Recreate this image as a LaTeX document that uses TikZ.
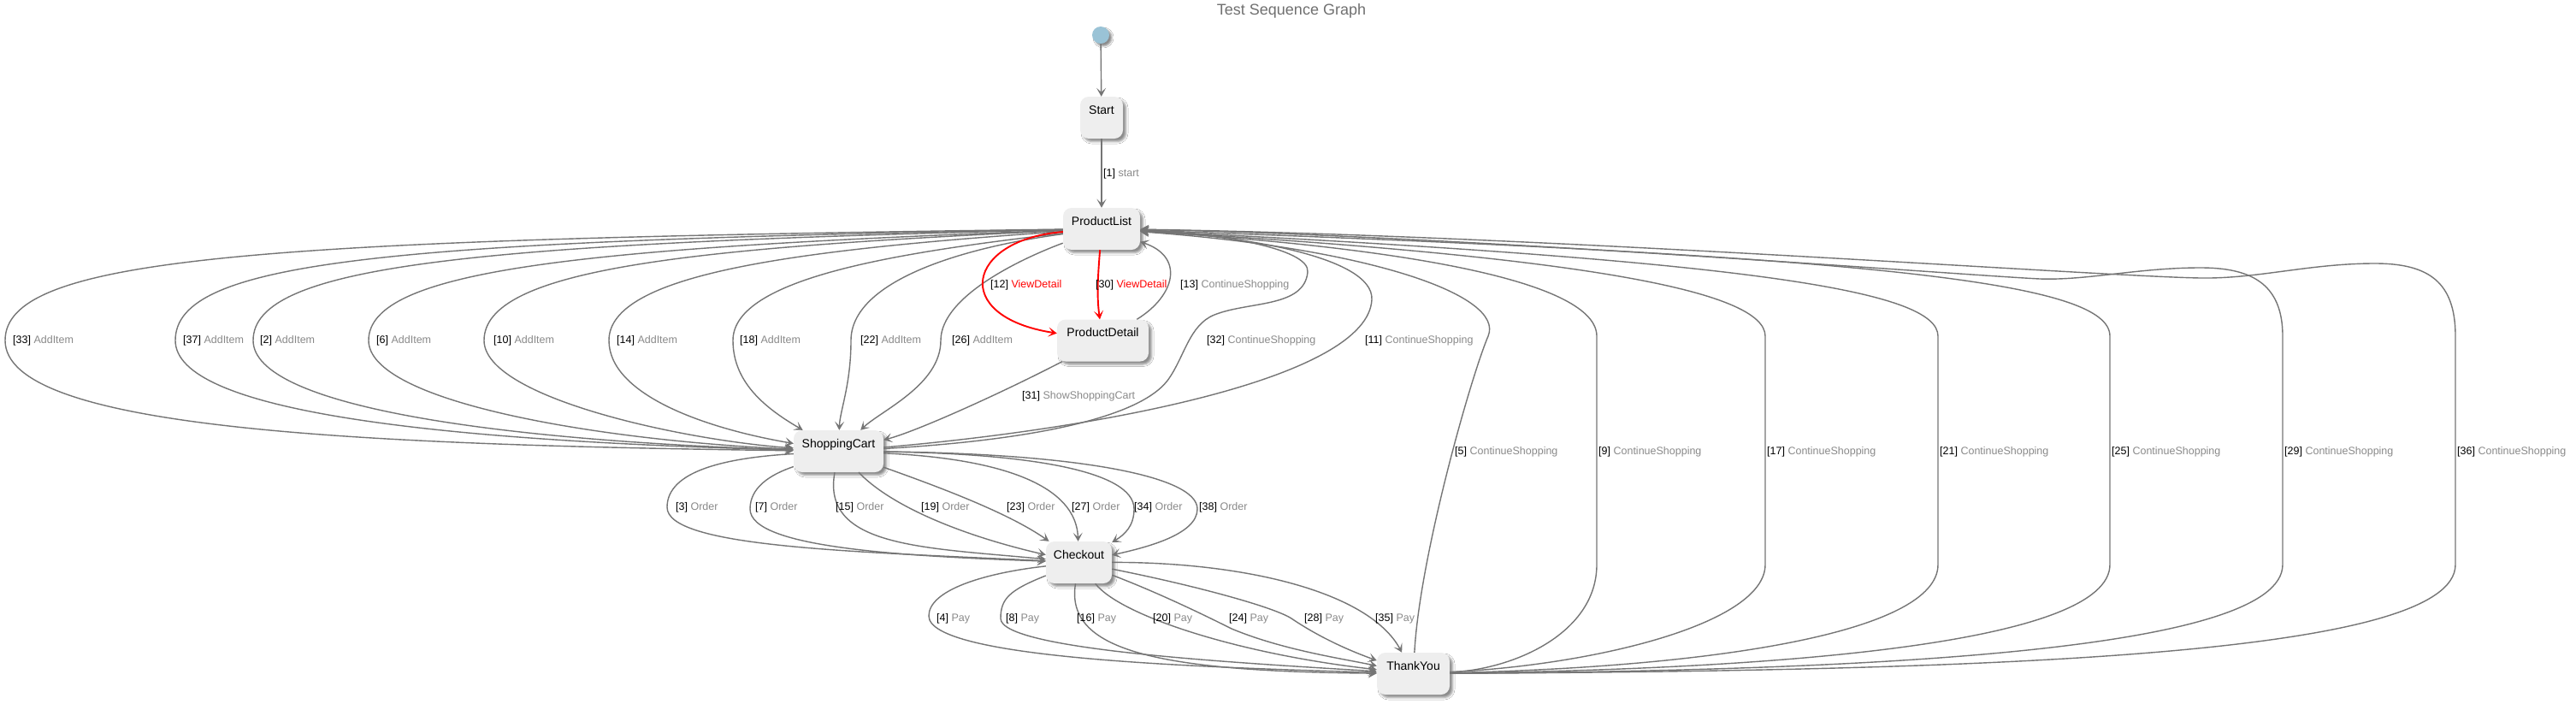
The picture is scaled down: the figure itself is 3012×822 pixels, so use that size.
\documentclass[tikz,border=0pt]{standalone}
\usepackage{fontspec}
\setmainfont{Liberation Sans}
\usetikzlibrary{arrows.meta,shadows.blur}
\definecolor{edgec}{HTML}{757575}
\definecolor{labc}{HTML}{8A8A8A}
\definecolor{nodefill}{HTML}{EEEEEE}
\definecolor{initc}{HTML}{9AC3D6}
\definecolor{titlec}{HTML}{707070}
\definecolor{redc}{HTML}{FF0000}
\newcommand\lblfont{\fontsize{12.5}{14}\selectfont}
\newcommand\stfont{\fontsize{14}{16}\selectfont}
\newcommand\ttlfont{\fontsize{18}{20}\selectfont}
\tikzset{
  st/.style={fill=nodefill, rounded corners=10pt, minimum height=49pt,
    text height=20pt, text depth=29pt, inner ysep=0pt, inner xsep=0pt,
    font=\stfont,
    blur shadow={shadow xshift=3.5pt, shadow yshift=-3.5pt, shadow blur radius=2.5pt, shadow opacity=45}},
  e/.style={draw=edgec, line width=1.4pt, -{Stealth[length=10pt,width=11pt,inset=5pt]}},
  re/.style={draw=redc, line width=1.9pt, -{Stealth[length=10pt,width=11pt,inset=5pt]}},
  lab/.style={anchor=west, inner sep=0pt, font=\lblfont},
}
\newcommand\gl[2]{#1 {\color{labc}#2}}
\newcommand\rl[2]{#1 {\color{redc}#2}}
\begin{document}
\begin{tikzpicture}[x=1pt,y=-1pt]
\useasboundingbox (0,0) rectangle (3012,822);
\fill[white] (0,0) rectangle (3012,822);

\node[font=\ttlfont, text=titlec, inner sep=0pt] (title) at (1510,13) {Test Sequence Graph};

\node[circle, fill=initc, minimum size=20pt, inner sep=0pt,
  blur shadow={shadow xshift=3pt, shadow yshift=-3pt, shadow blur radius=2pt, shadow opacity=45}] (init) at (1287,41) {};
\node[st, minimum width=50pt] (Start) at (1288,137.5) {Start};
\node[st, minimum width=90pt] (PL) at (1288,267.5) {ProductList};
\node[st, minimum width=107pt] (PD) at (1289.5,398) {ProductDetail};
\node[st, minimum width=105pt] (SC) at (980.5,527.5) {ShoppingCart};
\node[st, minimum width=77pt] (CO) at (1261.5,657.5) {Checkout};
\node[st, minimum width=85pt] (TY) at (1652.5,787.5) {ThankYou};

% initial and start
\draw[e] (init) -- (Start);
\draw[e] (Start) -- (PL);

% AddItem: ProductList -> ShoppingCart
\draw[e] (PL) .. controls (300,280) and (6,300) .. (6,398) .. controls (6,500) and (400,520) .. (SC);
\draw[e] (PL) .. controls (450,282) and (205,305) .. (205,398) .. controls (205,480) and (500,515) .. (SC);
\draw[e] (PL) .. controls (550,285) and (296,310) .. (296,398) .. controls (296,475) and (580,515) .. (SC);
\draw[e] (PL) .. controls (680,290) and (431,315) .. (431,398) .. controls (431,470) and (700,515) .. (SC);
\draw[e] (PL) .. controls (800,290) and (566,315) .. (566,398) .. controls (566,465) and (800,515) .. (SC);
\draw[e] (PL) .. controls (930,292) and (712,320) .. (712,398) .. controls (712,460) and (820,500) .. (SC);
\draw[e] (PL) .. controls (1050,295) and (857,325) .. (857,398) .. controls (857,450) and (900,480) .. (SC);
\draw[e] (PL) .. controls (1120,290) and (995,330) .. (995,398) .. controls (995,450) and (982,480) .. (SC);
\draw[e] (PL) .. controls (1200,300) and (1100,345) .. (1100,398) .. controls (1100,450) and (1030,480) .. (SC);

% ViewDetail (red)
\draw[re] (PL) .. controls (1130,280) and (1110,370) .. (PD);
\draw[re] (PL) .. controls (1284,320) and (1282,345) .. (PD);
% ProductDetail -> ProductList
\draw[e] (PD) .. controls (1375,345) and (1385,300) .. (PL);
% ProductDetail -> ShoppingCart
\draw[e] (PD) .. controls (1170,460) and (1070,505) .. (SC);
% ShoppingCart -> ProductList
\draw[e] (SC) .. controls (1200,515) and (1330,490) .. (1365,445) .. controls (1385,418) and (1390,380) .. (1420,368) .. controls (1460,352) and (1525,360) .. (1529,318) .. controls (1532,290) and (1420,272) .. (PL);
\draw[e] (SC) .. controls (1300,500) and (1600,440) .. (1604,350) .. controls (1606,300) and (1450,275) .. (PL);

% ThankYou -> ProductList
\draw[e] (TY) .. controls (1660,650) and (1720,440) .. (1740,393) .. controls (1760,345) and (1600,290) .. (PL);
\draw[e] (TY) .. controls (1770,783) and (1867,740) .. (1867,660) -- (1867,393) .. controls (1867,330) and (1650,290) .. (PL);
\draw[e] (TY) .. controls (1860,778) and (2064,730) .. (2064,660) -- (2064,393) .. controls (2064,340) and (1850,300) .. (PL);
\draw[e] (TY) .. controls (2000,780) and (2266,740) .. (2266,660) -- (2266,393) .. controls (2266,340) and (2050,305) .. (PL);
\draw[e] (TY) .. controls (2100,782) and (2467,750) .. (2467,660) -- (2467,393) .. controls (2467,330) and (2200,300) .. (PL);
\draw[e] (TY) .. controls (2200,784) and (2669,760) .. (2669,660) -- (2669,393) .. controls (2669,330) and (2630,313) .. (2573,313) .. controls (2500,313) and (2440,328) .. (2385,326) .. controls (2300,322) and (1700,275) .. (PL);
\draw[e] (TY) .. controls (2350,784) and (2871,765) .. (2871,660) -- (2871,393) .. controls (2871,330) and (2840,308) .. (2777,308) .. controls (2700,308) and (2640,326) .. (2573,325) .. controls (2450,323) and (1800,275) .. (PL);

% Order: ShoppingCart -> Checkout
\draw[e] (SC) .. controls (850,535) and (780,550) .. (780,593) .. controls (780,640) and (1000,645) .. (CO);
\draw[e] (SC) .. controls (900,555) and (877,570) .. (877,595) .. controls (877,640) and (1050,650) .. (CO);
\draw[e] (SC) .. controls (960,640) and (1080,640) .. (CO);
\draw[e] (SC) .. controls (1040,590) and (1120,625) .. (CO);
\draw[e] (SC) .. controls (1100,570) and (1180,600) .. (CO);
\draw[e] (SC) .. controls (1150,535) and (1258,560) .. (CO);
\draw[e] (SC) .. controls (1200,530) and (1326,550) .. (1326,595) .. controls (1326,615) and (1315,625) .. (CO);
\draw[e] (SC) .. controls (1250,530) and (1400,555) .. (1400,595) .. controls (1400,625) and (1340,640) .. (CO);

% Pay: Checkout -> ThankYou
\draw[e] (CO) .. controls (1150,670) and (1086,690) .. (1086,720) .. controls (1086,770) and (1400,780) .. (TY);
\draw[e] (CO) .. controls (1180,690) and (1170,700) .. (1170,723) .. controls (1170,760) and (1450,775) .. (TY);
\draw[e] (CO) .. controls (1245,760) and (1350,785) .. (TY);
\draw[e] (CO) .. controls (1310,720) and (1450,765) .. (TY);
\draw[e] (CO) .. controls (1360,695) and (1420,725) .. (1440,735) .. controls (1500,760) and (1570,770) .. (TY);
\draw[e] (CO) .. controls (1400,685) and (1490,710) .. (1510,723) .. controls (1550,750) and (1590,765) .. (TY);
\draw[e] (CO) .. controls (1450,657) and (1600,690) .. (TY);

% labels
\node[lab] (l1) at (1290,203) {\gl{[1]}{start}};
\node[lab] (l33) at (15,398) {\gl{[33]}{AddItem}};
\node[lab] (l37) at (214,398) {\gl{[37]}{AddItem}};
\node[lab] (l2) at (304,398) {\gl{[2]}{AddItem}};
\node[lab] (l6) at (440,398) {\gl{[6]}{AddItem}};
\node[lab] (l10) at (577,398) {\gl{[10]}{AddItem}};
\node[lab] (l14) at (721,398) {\gl{[14]}{AddItem}};
\node[lab] (l18) at (865,398) {\gl{[18]}{AddItem}};
\node[lab] (l22) at (1006,398) {\gl{[22]}{AddItem}};
\node[lab] (l26) at (1113,398) {\gl{[26]}{AddItem}};
\node[lab] (l12) at (1158,333) {\rl{[12]}{ViewDetail}};
\node[lab] (l30) at (1281,333) {\rl{[30]}{ViewDetail}};
\node[lab] (l13) at (1380,333) {\gl{[13]}{ContinueShopping}};
\node[lab] (l32) at (1411,398) {\gl{[32]}{ContinueShopping}};
\node[lab] (l11) at (1596,398) {\gl{[11]}{ContinueShopping}};
\node[lab] (l31) at (1195,463) {\gl{[31]}{ShowShoppingCart}};
\node[lab] (l5) at (1701,528) {\gl{[5]}{ContinueShopping}};
\node[lab] (l9) at (1869,528) {\gl{[9]}{ContinueShopping}};
\node[lab] (l17) at (2066,528) {\gl{[17]}{ContinueShopping}};
\node[lab] (l21) at (2268,528) {\gl{[21]}{ContinueShopping}};
\node[lab] (l25) at (2469,528) {\gl{[25]}{ContinueShopping}};
\node[lab] (l29) at (2671,528) {\gl{[29]}{ContinueShopping}};
\node[lab] (l36) at (2873,528) {\gl{[36]}{ContinueShopping}};
\node[lab] (l3) at (790,593) {\gl{[3]}{Order}};
\node[lab] (l7) at (883,593) {\gl{[7]}{Order}};
\node[lab] (l15) at (977,593) {\gl{[15]}{Order}};
\node[lab] (l19) at (1077,593) {\gl{[19]}{Order}};
\node[lab] (l23) at (1177,593) {\gl{[23]}{Order}};
\node[lab] (l27) at (1253,593) {\gl{[27]}{Order}};
\node[lab] (l34) at (1326,593) {\gl{[34]}{Order}};
\node[lab] (l38) at (1402,593) {\gl{[38]}{Order}};
\node[lab] (l4) at (1095,723) {\gl{[4]}{Pay}};
\node[lab] (l8) at (1176,723) {\gl{[8]}{Pay}};
\node[lab] (l16) at (1259,723) {\gl{[16]}{Pay}};
\node[lab] (l20) at (1348,723) {\gl{[20]}{Pay}};
\node[lab] (l24) at (1437,723) {\gl{[24]}{Pay}};
\node[lab] (l28) at (1525,723) {\gl{[28]}{Pay}};
\node[lab] (l35) at (1608,723) {\gl{[35]}{Pay}};
\end{tikzpicture}
\end{document}
